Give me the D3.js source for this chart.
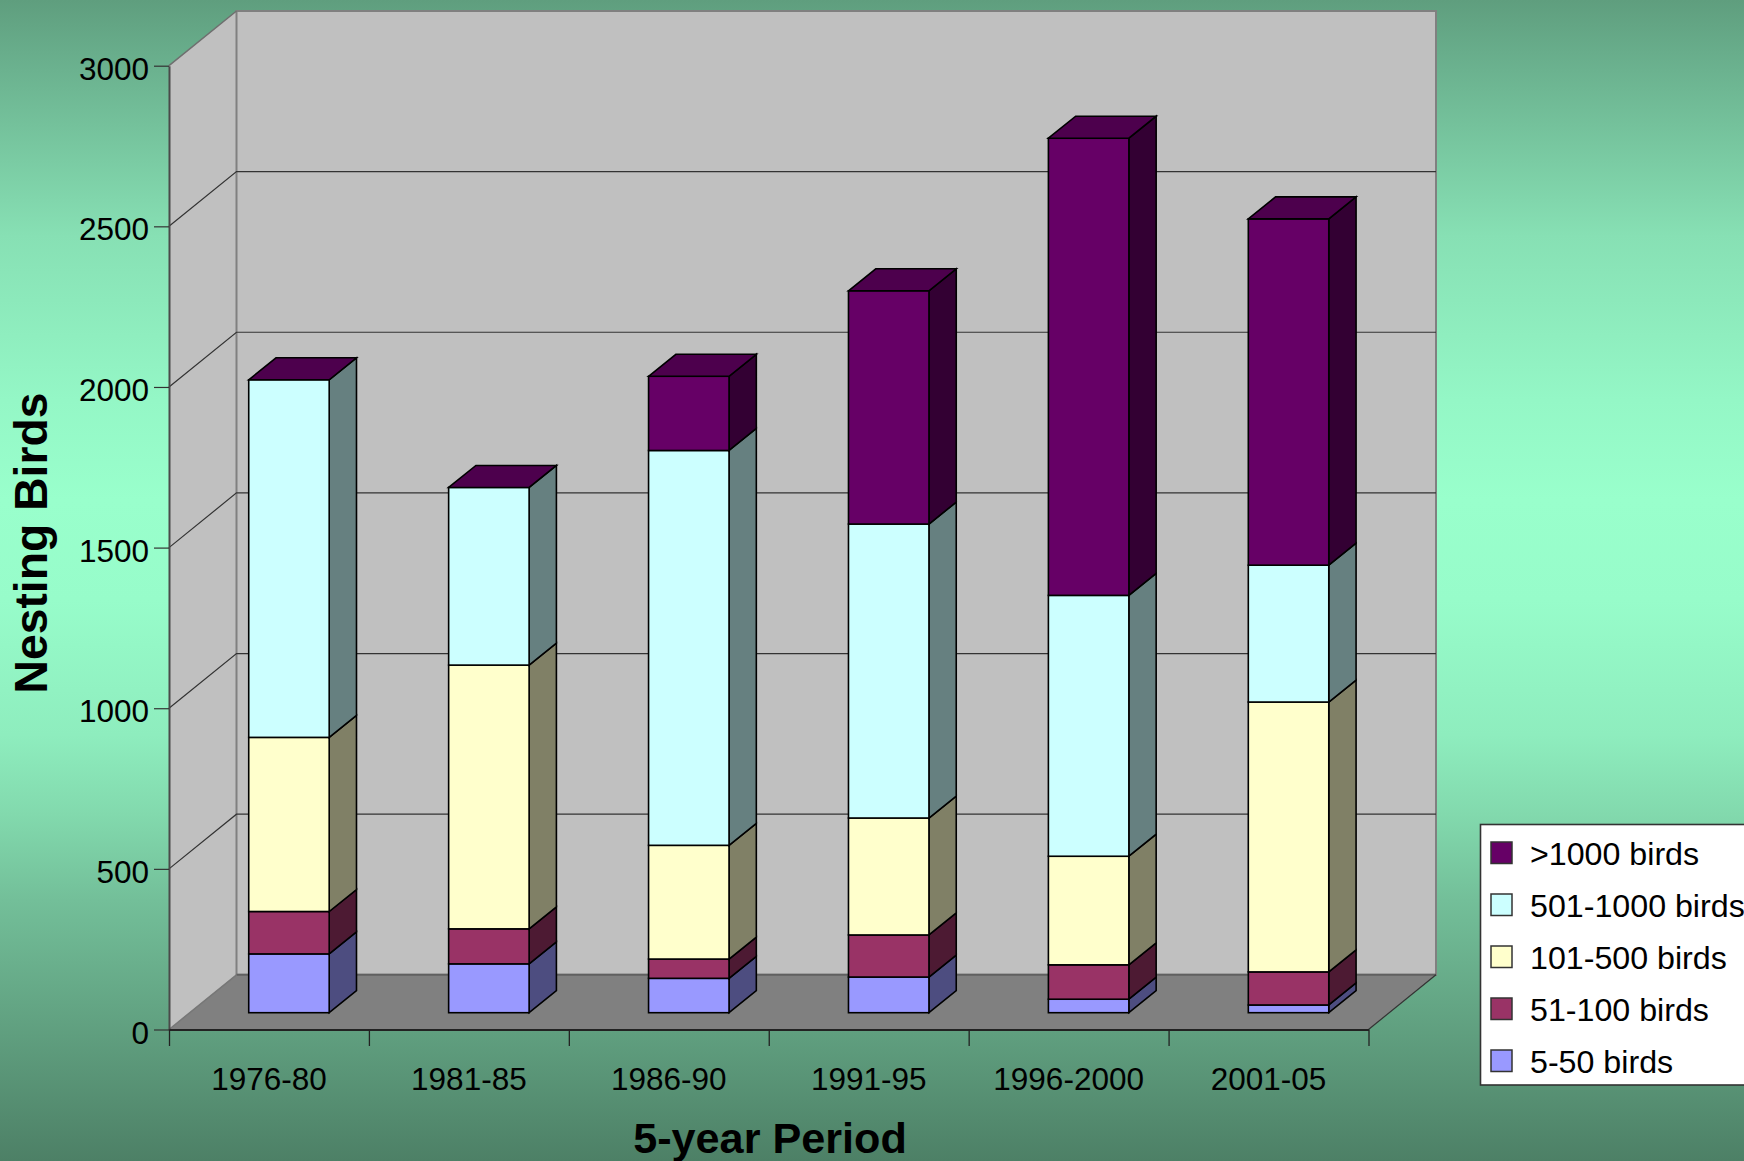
<!DOCTYPE html>
<html>
<head>
<meta charset="utf-8">
<script src="https://cdn.jsdelivr.net/npm/d3@7/dist/d3.min.js"></script>
<style>
html,body{margin:0;padding:0;overflow:hidden;background:#5f9f80}
svg{display:block}
text{font-family:"Liberation Sans",Arial,sans-serif;fill:#000}
</style>
</head>
<body>
<svg id="c" width="1744" height="1161"></svg>
<script>
const categories = ["1976-80","1981-85","1986-90","1991-95","1996-2000","2001-05"];
const birds5to50 = [183,152,107,111,42,24];
const birds51to100 = [132,109,60,131,107,103];
const birds101to500 = [542,821,354,364,338,840];
const birds501to1000 = [1113,553,1229,915,812,426];
const birdsOver1000 = [0,0,231,726,1423,1078];
const seriesNames = ["5-50 birds","51-100 birds","101-500 birds","501-1000 birds",">1000 birds"];
const seriesColors = ["#9999FF","#993366","#FFFFCC","#CCFFFF","#660066"];
const yTicks = [0,500,1000,1500,2000,2500,3000];
const yTitle = "Nesting Birds";
const xTitle = "5-year Period";

const W = 1744, H = 1161;
const pL = 169, pR = 1368.5, pB = 1029.5, pT = 65.7;
const wallDx = 67.5, wallDy = 54.7;     // depth of the 3D box
const barOffX = 20, barOffY = 16.8;     // bars stand this far into the box
const barDx = 27.3, barDy = 22;         // depth of each bar

const svg = d3.select("#c");
const defs = svg.append("defs");
const grad = defs.append("linearGradient").attr("id","bg").attr("x1",0).attr("y1",0).attr("x2",0).attr("y2",1);
const bgStops = [[0,.62],[52,.68],[236,.88],[400,.97],[500,1],[600,.99],[735,.93],[815,.85],[900,.75],[1161,.5]];
const bgBase = d3.rgb("#99ffcc");
bgStops.forEach(([p,k])=>grad.append("stop").attr("offset",p/H)
  .attr("stop-color",d3.rgb(bgBase.r*k,bgBase.g*k,bgBase.b*k).formatHex()));
svg.append("rect").attr("width",W).attr("height",H).attr("fill","url(#bg)");

const y = d3.scaleLinear().domain([0,3000]).range([pB,pT]);
const edge = d3.scaleLinear().domain([0,categories.length]).range([pL,pR]);
const xLabel = d3.scaleBand().domain(categories).range([pL,pR]);
const barPad = 0.5975;
const xBar = d3.scaleBand().domain(categories).range([pL+barOffX,pR+barOffX]).paddingInner(barPad).paddingOuter(barPad/2);

const pts = a => a.map(p=>p.join(",")).join(" ");

// walls
svg.append("polygon").attr("points",pts([[pL,pB],[pL,pT],[pL+wallDx,pT-wallDy],[pL+wallDx,pB-wallDy]]))
  .attr("fill","#C0C0C0");
svg.append("rect").attr("x",pL+wallDx).attr("y",pT-wallDy).attr("width",pR-pL).attr("height",pB-pT)
  .attr("fill","#C0C0C0").attr("stroke","#808080").attr("stroke-width",2);
svg.append("line").attr("x1",pL).attr("y1",pT).attr("x2",pL+wallDx).attr("y2",pT-wallDy).attr("stroke","#6f6f6f").attr("stroke-width",1.5);

// gridlines on both walls
const grid = svg.append("g");
yTicks.filter(t=>t>0 && t<3000).forEach(t=>{
  grid.append("polyline").attr("fill","none").attr("stroke","#333").attr("stroke-width",1.2)
    .attr("points",pts([[pL,y(t)],[pL+wallDx,y(t)-wallDy],[pR+wallDx,y(t)-wallDy]]));
});

// floor
svg.append("polygon").attr("points",pts([[pL,pB],[pR,pB],[pR+wallDx,pB-wallDy],[pL+wallDx,pB-wallDy]]))
  .attr("fill","#808080");
svg.append("line").attr("x1",pL+wallDx).attr("x2",pR+wallDx).attr("y1",pB-wallDy).attr("y2",pB-wallDy).attr("stroke","#606060").attr("stroke-width",2);
svg.append("line").attr("x1",pR).attr("y1",pB).attr("x2",pR+wallDx).attr("y2",pB-wallDy).attr("stroke","#333").attr("stroke-width",1.2);
svg.append("line").attr("x1",pL).attr("y1",pB).attr("x2",pL+wallDx).attr("y2",pB-wallDy).attr("stroke","#777").attr("stroke-width",1.5);

// stacked bars
const table = categories.map((c,i)=>({cat:c,0:birds5to50[i],1:birds51to100[i],2:birds101to500[i],3:birds501to1000[i],4:birdsOver1000[i]}));
const stacked = d3.stack().keys([0,1,2,3,4])(table);
const bars = svg.append("g").attr("stroke","#000").attr("stroke-width",1.6).attr("stroke-linejoin","miter");
const shade = (c,k)=>{const r=d3.rgb(c);return d3.rgb(r.r*k,r.g*k,r.b*k).formatHex();};
categories.forEach((c,i)=>{
  const x0 = xBar(c), x1 = x0+xBar.bandwidth();
  stacked.forEach((s,k)=>{
    const v0=s[i][0], v1=s[i][1];
    if(v1-v0<=0) return;
    const ya=y(v0)-barOffY, yb=y(v1)-barOffY;
    bars.append("polygon").attr("points",pts([[x1,ya],[x1+barDx,ya-barDy],[x1+barDx,yb-barDy],[x1,yb]])).attr("fill",shade(seriesColors[k],0.5));
    bars.append("rect").attr("x",x0).attr("y",yb).attr("width",x1-x0).attr("height",ya-yb).attr("fill",seriesColors[k]);
  });
  const t = y(stacked[4][i][1])-barOffY;
  bars.append("polygon").attr("points",pts([[x0,t],[x0+barDx,t-barDy],[x1+barDx,t-barDy],[x1,t]])).attr("fill",shade(seriesColors[4],0.75));
});

// axes
const yAxis = svg.append("g").attr("transform",`translate(${pL},0)`)
  .call(d3.axisLeft(y).tickValues(yTicks).tickSize(15).tickSizeOuter(0).tickPadding(5).tickFormat(d3.format("d")));
yAxis.select(".domain").attr("stroke","#4a4a4a").attr("stroke-width",2);
yAxis.selectAll(".tick line").attr("stroke","#333").attr("stroke-width",1.2);
yAxis.selectAll("text").attr("font-size",31.5).attr("dy",13.6).attr("font-family",null);

const xEdges = svg.append("g").attr("transform",`translate(0,${pB})`)
  .call(d3.axisBottom(edge).ticks(categories.length).tickSize(16.5).tickSizeOuter(0).tickFormat(""));
xEdges.select(".domain").attr("stroke","#222").attr("stroke-width",2);
xEdges.selectAll(".tick line").attr("stroke","#222").attr("stroke-width",1.3);

const xAxis = svg.append("g").attr("transform",`translate(0,${pB})`)
  .call(d3.axisBottom(xLabel).tickSize(0).tickPadding(0));
xAxis.select(".domain").remove();
xAxis.selectAll("text").attr("font-size",31.5).attr("y",60.5).attr("dy",0).attr("dx",0).attr("font-family",null);

// titles
svg.append("text").attr("transform","translate(46.5,543) rotate(-90)").attr("text-anchor","middle")
  .attr("font-size",46.3).attr("font-weight","bold").text(yTitle);
svg.append("text").attr("x",770).attr("y",1153).attr("text-anchor","middle")
  .attr("font-size",43.2).attr("font-weight","bold").text(xTitle);

// legend
const lg = svg.append("g");
lg.append("rect").attr("x",1480.5).attr("y",824.5).attr("width",290).attr("height",260.5)
  .attr("fill","#fff").attr("stroke","#333").attr("stroke-width",1.6);
const order = d3.range(seriesNames.length).reverse();
order.forEach((k,r)=>{
  lg.append("rect").attr("x",1491).attr("y",842+52*r).attr("width",21).attr("height",21.5)
    .attr("fill",seriesColors[k]).attr("stroke","#333").attr("stroke-width",1.5);
  lg.append("text").attr("x",1530).attr("y",865+52*r).attr("font-size",32.2).text(seriesNames[k]);
});
</script>
</body>
</html>
